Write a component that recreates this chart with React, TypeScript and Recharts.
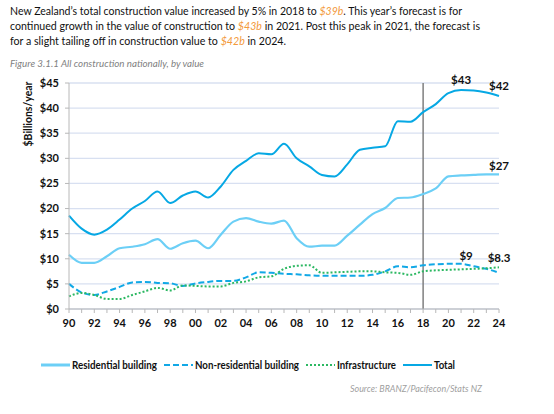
import { CartesianGrid, Line, LineChart, ReferenceLine, XAxis, YAxis } from 'recharts';

const years = [
  1990, 1991, 1992, 1993, 1994, 1995, 1996, 1997, 1998, 1999, 2000, 2001,
  2002, 2003, 2004, 2005, 2006, 2007, 2008, 2009, 2010, 2011, 2012, 2013,
  2014, 2015, 2016, 2017, 2018, 2019, 2020, 2021, 2022, 2023, 2024,
];

const residential = [
  10.8, 9.2, 9.2, 10.5, 12.1, 12.4, 12.9, 13.9, 12.0, 13.1, 13.6, 12.1,
  14.8, 17.4, 18.1, 17.4, 17.0, 17.6, 14.1, 12.4, 12.6, 12.6, 14.6, 16.8,
  18.9, 20.1, 22.1, 22.2, 22.9, 24.0, 26.4, 26.6, 26.7, 26.8, 26.8,
];

const nonResidential = [
  5.0, 3.3, 2.8, 3.5, 4.4, 5.3, 5.4, 5.2, 5.1, 4.6, 5.1, 5.4,
  5.6, 5.6, 6.3, 7.3, 7.2, 7.0, 6.9, 6.7, 6.6, 6.6, 6.6, 6.6,
  6.8, 7.5, 8.5, 8.3, 8.7, 8.9, 9.0, 9.0, 8.5, 8.0, 7.2,
];

const infrastructure = [
  2.5, 3.2, 2.8, 2.0, 2.0, 2.8, 3.5, 4.2, 3.7, 4.7, 4.6, 4.5,
  4.5, 5.2, 5.5, 6.3, 6.5, 8.0, 8.6, 8.7, 7.2, 7.3, 7.4, 7.5,
  7.5, 7.3, 7.2, 6.8, 7.5, 7.7, 7.8, 7.9, 8.0, 8.1, 8.3,
];

const total = [
  18.6, 16.0, 14.8, 15.8, 17.8, 20.0, 21.5, 23.4, 21.1, 22.6, 23.4, 22.2,
  24.4, 27.7, 29.5, 31.0, 30.8, 32.9, 30.0, 28.4, 26.7, 26.4, 28.8, 31.7,
  32.1, 32.4, 37.4, 37.3, 39.2, 40.8, 43.0, 43.6, 43.5, 43.1, 42.4,
];

const yTicks = [0, 5, 10, 15, 20, 25, 30, 35, 40, 45];

// value callouts drawn next to the lines
const callouts = [
  { key: 'total', year: 2021, text: '$43', dx: 0, dy: -6 },
  { key: 'total', year: 2024, text: '$42', dx: 0, dy: -6 },
  { key: 'residential', year: 2024, text: '$27', dx: 0, dy: -4 },
  { key: 'nonResidential', year: 2021, text: '$9', dx: 5, dy: -4 },
  { key: 'infrastructure', year: 2024, text: '$8.3', dx: 0, dy: -5 },
];

const chartData = years.map((year, i) => ({
  year,
  residential: residential[i],
  nonResidential: nonResidential[i],
  infrastructure: infrastructure[i],
  total: total[i],
}));

const series = [
  { key: 'residential', name: 'Residential building', color: '#6ccff6', dash: undefined, width: 2.2, textW: 85 },
  { key: 'nonResidential', name: 'Non-residential building', color: '#11a8e6', dash: '6 3', width: 2, textW: 104 },
  { key: 'infrastructure', name: 'Infrastructure', color: '#2cb862', dash: '2 2', width: 2, textW: 59 },
  { key: 'total', name: 'Total', color: '#06a8e4', dash: undefined, width: 2, textW: 21 },
];

const FONT = 'Lato, "Open Sans", sans-serif';
const ORANGE = '#f39a3c';

function makeLabel(key: string) {
  return (props: any) => {
    const { x, y, index } = props;
    const c = callouts.find((k) => k.key === key && years[index] === k.year);
    if (!c) return <g />;
    return (
      <text
        x={Number(x) + c.dx}
        y={Number(y) + c.dy}
        textAnchor="middle"
        fontFamily={FONT}
        fontWeight={700}
        fontSize={11.5}
        fill="#111"
      >
        {c.text}
      </text>
    );
  };
}

function Legend() {
  let x = 41;
  return (
    <g>
      {series.map((s) => {
        const sx = x;
        x += 29 + 2 + s.textW + 7;
        return (
          <g key={s.key}>
            <line
              x1={sx}
              x2={sx + 29}
              y1={365}
              y2={365}
              stroke={s.color}
              strokeWidth={s.key === 'residential' ? 3 : 2}
              strokeDasharray={s.dash}
            />
            <text
              x={sx + 31}
              y={369}
              fontFamily={FONT}
              fontWeight={700}
              fontSize={11}
              fill="#111"
              textLength={s.textW}
              lengthAdjust="spacingAndGlyphs"
            >
              {s.name}
            </text>
          </g>
        );
      })}
    </g>
  );
}

export default function App() {
  return (
    <div style={{ position: 'absolute', left: 0, top: 0, width: 554, height: 414, background: '#fff' }}>
      <LineChart
        width={554}
        height={414}
        data={chartData}
        margin={{ top: 83, right: 55, bottom: 75, left: 20 }}
      >
        <CartesianGrid vertical={false} stroke="#d8e0f1" strokeWidth={1.3} />
        <XAxis
          dataKey="year"
          type="number"
          domain={[1990, 2024]}
          ticks={years}
          interval={0}
          height={30}
          tickSize={4}
          tickMargin={6}
          stroke="#b8b8b8"
          tick={{ fill: '#111', fontSize: 11, fontWeight: 700, fontFamily: FONT }}
          tickFormatter={(v) => (v % 2 === 0 ? String(v % 100).padStart(2, '0') : '')}
        />
        <YAxis
          width={49}
          domain={[0, 45]}
          ticks={yTicks}
          interval={0}
          tickSize={4}
          tickMargin={6}
          stroke="#b8b8b8"
          tick={{ fill: '#111', fontSize: 11, fontWeight: 700, fontFamily: FONT }}
          tickFormatter={(v) => `$${String(v)}`}
        />
        <ReferenceLine x={2018} stroke="#7f7f7f" strokeWidth={1.5} />
        {series.map((s) => (
          <Line
            key={s.key}
            type="monotone"
            dataKey={s.key}
            name={s.name}
            stroke={s.color}
            strokeWidth={s.width}
            strokeDasharray={s.dash}
            dot={false}
            activeDot={false}
            isAnimationActive={false}
            label={makeLabel(s.key)}
          />
        ))}
      </LineChart>
      <svg
        width={554}
        height={414}
        style={{ position: 'absolute', left: 0, top: 0, pointerEvents: 'none' }}
      >
        <g fontFamily={FONT} fontSize={10.5} fill="#111">
          <text x={10} y={15} textLength={452} lengthAdjust="spacingAndGlyphs">
            New Zealand’s total construction value increased by 5% in 2018 to{' '}
            <tspan fill={ORANGE} fontStyle="italic">$39b</tspan>. This year’s forecast is for
          </text>
          <text x={10} y={30} textLength={470} lengthAdjust="spacingAndGlyphs">
            continued growth in the value of construction to{' '}
            <tspan fill={ORANGE} fontStyle="italic">$43b</tspan> in 2021. Post this peak in 2021, the forecast is
          </text>
          <text x={10} y={45} textLength={276} lengthAdjust="spacingAndGlyphs">
            for a slight tailing off in construction value to{' '}
            <tspan fill={ORANGE} fontStyle="italic">$42b</tspan> in 2024.
          </text>
        </g>
        <text
          x={10}
          y={67}
          fontFamily={FONT}
          fontSize={9}
          fontStyle="italic"
          fill="#7f7f7f"
          textLength={194}
          lengthAdjust="spacingAndGlyphs"
        >
          Figure 3.1.1 All construction nationally, by value
        </text>
        <text
          transform="translate(32,114) rotate(-90)"
          textAnchor="middle"
          fontFamily={FONT}
          fontWeight={700}
          fontSize={11}
          fill="#111"
          textLength={65}
          lengthAdjust="spacingAndGlyphs"
        >
          $Billions/year
        </text>
        <Legend />
        <text
          x={350}
          y={392}
          fontFamily={FONT}
          fontSize={9.5}
          fontStyle="italic"
          fill="#a0a0a0"
          textLength={132}
          lengthAdjust="spacingAndGlyphs"
        >
          Source: BRANZ/Pacifecon/Stats NZ
        </text>
      </svg>
    </div>
  );
}
